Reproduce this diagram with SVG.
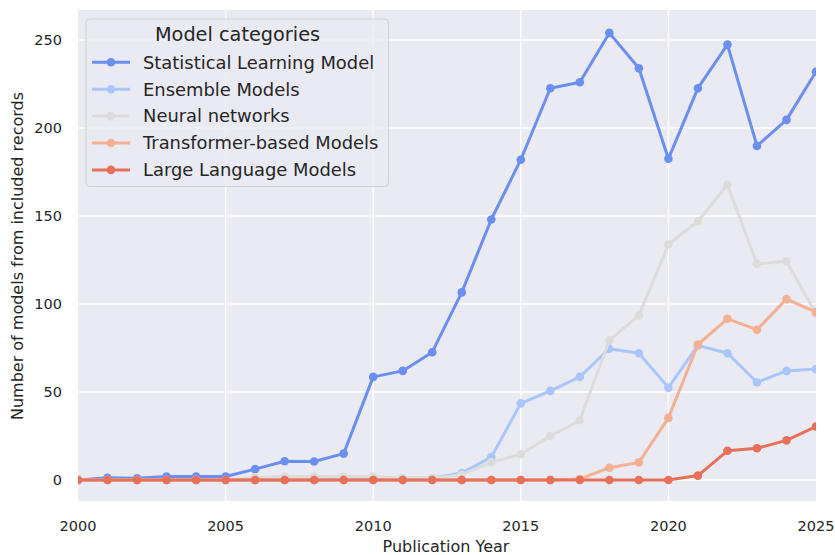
<svg xmlns="http://www.w3.org/2000/svg" width="835" height="555" viewBox="0 0 835 555">
  <style>
    text { font-family: "DejaVu Sans", "Liberation Sans", sans-serif; fill: #262626; }
    .tick { font-size: 14.5px; }
    .ytick { text-anchor: end; }
    .xtick { text-anchor: middle; }
    .axlabel { font-size: 16px; text-anchor: middle; }
    .grid { stroke: #ffffff; stroke-width: 1.3; }
    .series { fill: none; stroke-width: 3; stroke-linejoin: round; stroke-linecap: round; }
    .leg-text { font-size: 17.9px; }
    .leg-title { font-size: 19.3px; text-anchor: middle; }
  </style>
  <defs>
    <clipPath id="plot-area">
      <rect x="78" y="10" width="738" height="491"/>
    </clipPath>
    <marker id="dot-stat" markerUnits="userSpaceOnUse" markerWidth="10" markerHeight="10" refX="5" refY="5" overflow="visible">
      <circle cx="5" cy="5" r="4.3" fill="#6b8ff0"/>
    </marker>
    <marker id="dot-ens" markerUnits="userSpaceOnUse" markerWidth="10" markerHeight="10" refX="5" refY="5" overflow="visible">
      <circle cx="5" cy="5" r="4.3" fill="#a9c6fc"/>
    </marker>
    <marker id="dot-nn" markerUnits="userSpaceOnUse" markerWidth="10" markerHeight="10" refX="5" refY="5" overflow="visible">
      <circle cx="5" cy="5" r="4.3" fill="#dcdcdb"/>
    </marker>
    <marker id="dot-tf" markerUnits="userSpaceOnUse" markerWidth="10" markerHeight="10" refX="5" refY="5" overflow="visible">
      <circle cx="5" cy="5" r="4.3" fill="#f4b092"/>
    </marker>
    <marker id="dot-llm" markerUnits="userSpaceOnUse" markerWidth="10" markerHeight="10" refX="5" refY="5" overflow="visible">
      <circle cx="5" cy="5" r="4.3" fill="#e6705a"/>
    </marker>
  </defs>

  <rect width="835" height="555" fill="#ffffff"/>

  <!-- axes background and grid -->
  <g id="axes">
    <rect x="78" y="10" width="738" height="491" fill="#eaeaf2"/>
    <g id="grid">
      <line class="grid" x1="225.6" y1="10" x2="225.6" y2="501"/>
      <line class="grid" x1="373.2" y1="10" x2="373.2" y2="501"/>
      <line class="grid" x1="520.8" y1="10" x2="520.8" y2="501"/>
      <line class="grid" x1="668.4" y1="10" x2="668.4" y2="501"/>
      <line class="grid" x1="78" y1="480" x2="816" y2="480"/>
      <line class="grid" x1="78" y1="392" x2="816" y2="392"/>
      <line class="grid" x1="78" y1="304" x2="816" y2="304"/>
      <line class="grid" x1="78" y1="216" x2="816" y2="216"/>
      <line class="grid" x1="78" y1="128" x2="816" y2="128"/>
      <line class="grid" x1="78" y1="40" x2="816" y2="40"/>
    </g>
  </g>

  <!-- tick labels -->
  <g id="y-ticks" class="tick">
    <text class="ytick" x="62" y="485">0</text>
    <text class="ytick" x="62" y="397">50</text>
    <text class="ytick" x="62" y="309">100</text>
    <text class="ytick" x="62" y="221">150</text>
    <text class="ytick" x="62" y="133">200</text>
    <text class="ytick" x="62" y="45">250</text>
  </g>
  <g id="x-ticks" class="tick">
    <text class="xtick" x="78" y="530.5">2000</text>
    <text class="xtick" x="225.6" y="530.5">2005</text>
    <text class="xtick" x="373.2" y="530.5">2010</text>
    <text class="xtick" x="520.8" y="530.5">2015</text>
    <text class="xtick" x="668.4" y="530.5">2020</text>
    <text class="xtick" x="816" y="530.5">2025</text>
  </g>

  <!-- axis titles -->
  <text id="x-label" class="axlabel" x="446" y="552">Publication Year</text>
  <text id="y-label" class="axlabel" transform="translate(23 256) rotate(-90)">Number of models from included records</text>

  <!-- data series, one point per publication year 2000-2025 -->
  <g id="series" clip-path="url(#plot-area)">
    <polyline id="statistical" class="series" stroke="#6b8ff0" marker-start="url(#dot-stat)" marker-mid="url(#dot-stat)" marker-end="url(#dot-stat)"
      points="78,480 107.52,477.7 137.04,478.2 166.56,476.5 196.08,476.5 225.6,476.5 255.12,469.1 284.64,461.3 314.16,461.5 343.68,453.6 373.2,376.9 402.72,370.9 432.24,352.2 461.76,292.4 491.28,219.5 520.8,159.7 550.32,88.2 579.84,82.2 609.36,32.9 638.88,68.2 668.4,158.8 697.92,88.2 727.44,44.6 756.96,145.9 786.48,119.9 816,71.7"/>
    <polyline id="ensemble" class="series" stroke="#a9c6fc" marker-start="url(#dot-ens)" marker-mid="url(#dot-ens)" marker-end="url(#dot-ens)"
      points="78,480 107.52,480 137.04,480 166.56,480 196.08,480 225.6,480 255.12,480 284.64,480 314.16,480 343.68,479.1 373.2,478.2 402.72,478.2 432.24,478.2 461.76,473 491.28,457.1 520.8,403.4 550.32,390.9 579.84,376.9 609.36,348.7 638.88,353.3 668.4,387.6 697.92,345.4 727.44,353.3 756.96,382.3 786.48,370.9 816,369.1"/>
    <polyline id="neural" class="series" stroke="#dcdcdb" marker-start="url(#dot-nn)" marker-mid="url(#dot-nn)" marker-end="url(#dot-nn)"
      points="78,480 107.52,480 137.04,480 166.56,480 196.08,480 225.6,480 255.12,477.4 284.64,476.5 314.16,476.5 343.68,476.5 373.2,476.5 402.72,478.2 432.24,478.2 461.76,474.7 491.28,462.4 520.8,454.3 550.32,436 579.84,420.2 609.36,340.3 638.88,315.4 668.4,244.5 697.92,221.3 727.44,184.7 756.96,263.9 786.48,261.2 816,313.7"/>
    <polyline id="transformer" class="series" stroke="#f4b092" marker-start="url(#dot-tf)" marker-mid="url(#dot-tf)" marker-end="url(#dot-tf)"
      points="78,480 107.52,480 137.04,480 166.56,480 196.08,480 225.6,480 255.12,480 284.64,480 314.16,480 343.68,480 373.2,480 402.72,480 432.24,480 461.76,480 491.28,480 520.8,480 550.32,480 579.84,479.1 609.36,467.7 638.88,462.4 668.4,417.9 697.92,344.5 727.44,318.8 756.96,329.7 786.48,299.1 816,312.1"/>
    <polyline id="llm" class="series" stroke="#e6705a" marker-start="url(#dot-llm)" marker-mid="url(#dot-llm)" marker-end="url(#dot-llm)"
      points="78,480 107.52,480 137.04,480 166.56,480 196.08,480 225.6,480 255.12,480 284.64,480 314.16,480 343.68,480 373.2,480 402.72,480 432.24,480 461.76,480 491.28,480 520.8,480 550.32,480 579.84,480 609.36,480 638.88,480 668.4,480 697.92,475.6 727.44,450.8 756.96,448.3 786.48,440.4 816,426.5"/>
  </g>

  <!-- legend -->
  <g id="legend">
    <rect x="86" y="19" width="302.5" height="167.5" rx="4" fill="#eaeaf2" fill-opacity="0.85" stroke="#cfcfd4" stroke-width="1"/>
    <text class="leg-title" x="237.5" y="41">Model categories</text>
    <g id="legend-statistical">
      <line x1="92" y1="62.3" x2="130" y2="62.3" stroke="#6b8ff0" stroke-width="3"/>
      <circle cx="111" cy="62.3" r="4.3" fill="#6b8ff0"/>
      <text class="leg-text" x="143" y="68.6">Statistical Learning Model</text>
    </g>
    <g id="legend-ensemble">
      <line x1="92" y1="89.2" x2="130" y2="89.2" stroke="#a9c6fc" stroke-width="3"/>
      <circle cx="111" cy="89.2" r="4.3" fill="#a9c6fc"/>
      <text class="leg-text" x="143" y="95.5">Ensemble Models</text>
    </g>
    <g id="legend-neural">
      <line x1="92" y1="116.1" x2="130" y2="116.1" stroke="#dcdcdb" stroke-width="3"/>
      <circle cx="111" cy="116.1" r="4.3" fill="#dcdcdb"/>
      <text class="leg-text" x="143" y="122.4">Neural networks</text>
    </g>
    <g id="legend-transformer">
      <line x1="92" y1="143" x2="130" y2="143" stroke="#f4b092" stroke-width="3"/>
      <circle cx="111" cy="143" r="4.3" fill="#f4b092"/>
      <text class="leg-text" x="143" y="149.3">Transformer-based Models</text>
    </g>
    <g id="legend-llm">
      <line x1="92" y1="169.9" x2="130" y2="169.9" stroke="#e6705a" stroke-width="3"/>
      <circle cx="111" cy="169.9" r="4.3" fill="#e6705a"/>
      <text class="leg-text" x="143" y="176.2">Large Language Models</text>
    </g>
  </g>
</svg>
